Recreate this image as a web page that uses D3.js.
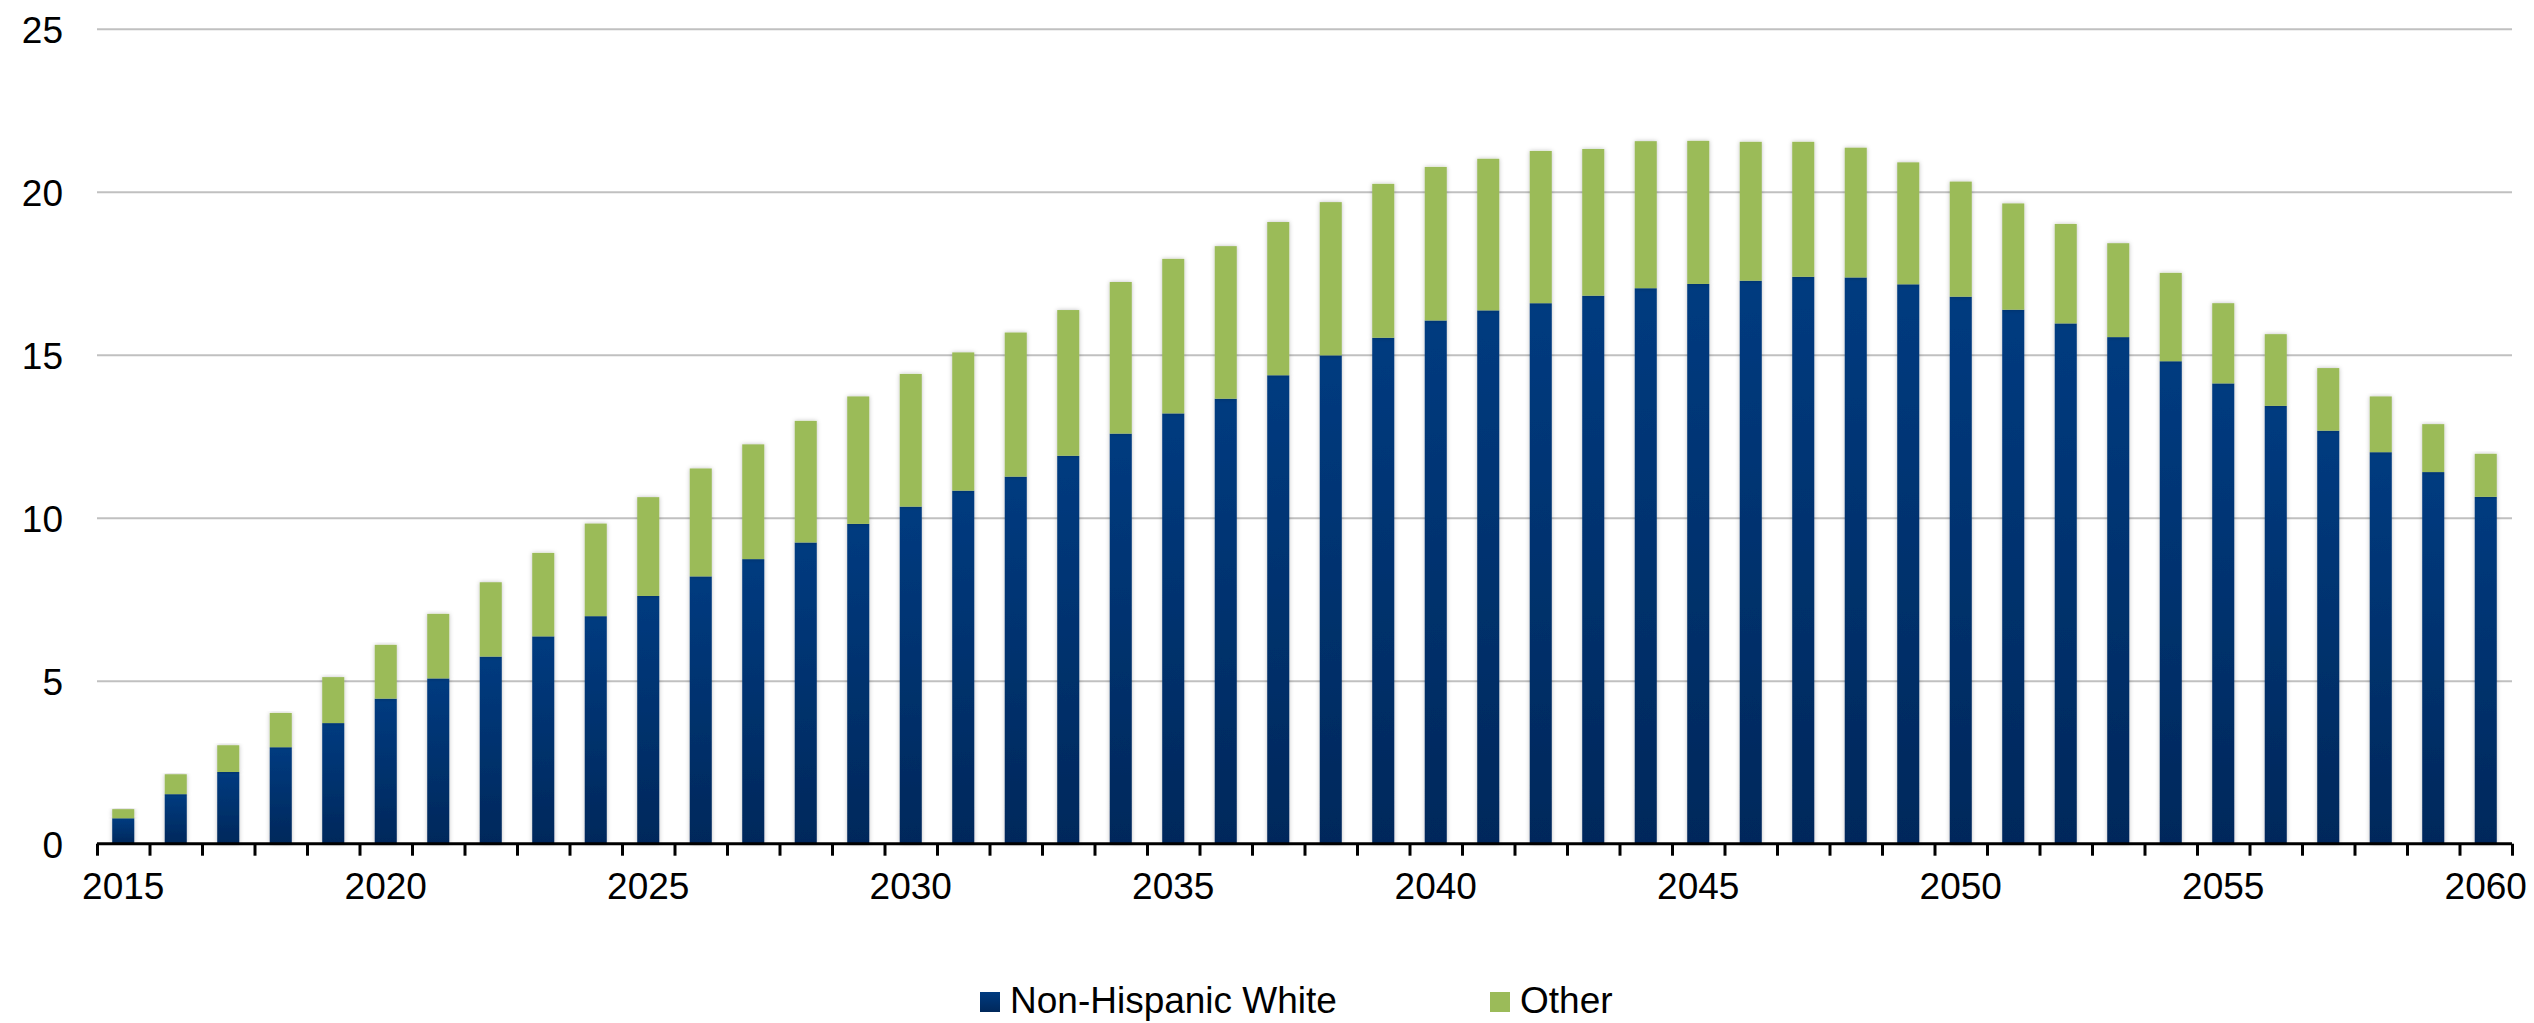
<!DOCTYPE html>
<html>
<head>
<meta charset="utf-8">
<script src="https://cdn.jsdelivr.net/npm/d3@7"></script>
<style>
  html, body { margin: 0; padding: 0; background: #ffffff; }
  svg { display: block; }
  text { font-family: "Liberation Sans", Arial, sans-serif; fill: #000; }
</style>
</head>
<body>
<svg id="chart" width="2534" height="1023"></svg>
<script>
const years = ["2015","2016","2017","2018","2019","2020","2021","2022","2023","2024",
  "2025","2026","2027","2028","2029","2030","2031","2032","2033","2034",
  "2035","2036","2037","2038","2039","2040","2041","2042","2043","2044",
  "2045","2046","2047","2048","2049","2050","2051","2052","2053","2054",
  "2055","2056","2057","2058","2059","2060"];
const nonHispanicWhite = [0.78,1.52,2.20,2.96,3.70,4.45,5.07,5.74,6.36,6.98,
  7.60,8.20,8.73,9.24,9.81,10.34,10.83,11.26,11.90,12.58,
  13.20,13.65,14.37,14.98,15.52,16.05,16.36,16.58,16.81,17.04,
  17.17,17.27,17.39,17.37,17.16,16.78,16.38,15.96,15.54,14.80,
  14.12,13.43,12.67,12.01,11.40,10.64];
const other = [0.28,0.61,0.82,1.05,1.41,1.65,1.98,2.28,2.56,2.84,
  3.03,3.31,3.52,3.73,3.91,4.07,4.24,4.42,4.47,4.65,
  4.74,4.68,4.70,4.70,4.72,4.71,4.65,4.67,4.50,4.51,
  4.39,4.26,4.14,3.98,3.74,3.53,3.26,3.05,2.88,2.71,
  2.46,2.20,1.92,1.71,1.47,1.32];
const seriesNames = ["Non-Hispanic White", "Other"];
const yTicks = [0, 5, 10, 15, 20, 25];
const xTickLabels = ["2015","2020","2025","2030","2035","2040","2045","2050","2055","2060"];

const svg = d3.select("#chart");
const plotLeft = 97, plotRight = 2512, plotTop = 28.7, plotBottom = 843.7;
const fontSize = 37;

const defs = svg.append("defs");
const grad = defs.append("linearGradient").attr("id", "blueGrad")
  .attr("x1", 0).attr("y1", 0).attr("x2", 0).attr("y2", 1);
grad.append("stop").attr("offset", "0%").attr("stop-color", "#003b80");
grad.append("stop").attr("offset", "100%").attr("stop-color", "#00285b");
const legGrad = defs.append("linearGradient").attr("id", "legGrad")
  .attr("x1", 0).attr("y1", 0).attr("x2", 0).attr("y2", 1);
legGrad.append("stop").attr("offset", "0%").attr("stop-color", "#003b80");
legGrad.append("stop").attr("offset", "100%").attr("stop-color", "#00285b");
const shadow = defs.append("filter").attr("id", "shadow")
  .attr("x", "-50%").attr("y", "-5%").attr("width", "200%").attr("height", "110%");
shadow.append("feDropShadow").attr("dx", 0).attr("dy", 0)
  .attr("stdDeviation", 2).attr("flood-color", "#000").attr("flood-opacity", 0.25);

const y = d3.scaleLinear().domain([0, 25]).range([plotBottom, plotTop]);
const x = d3.scaleBand().domain(years).range([plotLeft, plotRight])
  .paddingInner(0.58).paddingOuter(0.29);
const xEdge = d3.scaleLinear().domain([0, years.length]).range([plotLeft, plotRight]);

// gridlines + y labels
const yAxis = svg.append("g").attr("transform", `translate(${plotLeft},0)`)
  .call(d3.axisLeft(y).tickValues(yTicks).tickSize(-(plotRight - plotLeft)).tickPadding(34));
yAxis.select(".domain").remove();
yAxis.selectAll(".tick line").attr("stroke", "#c0c0c0").attr("stroke-width", 2)
  .attr("display", d => d === 0 ? "none" : null);
yAxis.selectAll(".tick text").attr("font-size", fontSize)
  .attr("font-family", "'Liberation Sans', Arial, sans-serif").attr("dy", "0.36em");

// stacked data
const rows = years.map((yr, i) => ({ year: yr, white: nonHispanicWhite[i], other: other[i] }));
const stack = d3.stack().keys(["white", "other"])(rows);
const fills = ["url(#blueGrad)", "#9bbb59"];

const barsG = svg.append("g");
stack.forEach((layer, li) => {
  barsG.append("g").selectAll("rect").data(layer).join("rect")
    .attr("x", d => x(d.data.year))
    .attr("width", x.bandwidth())
    .attr("y", d => y(d[1]))
    .attr("height", d => y(d[0]) - y(d[1]))
    .attr("fill", fills[li])
    .attr("filter", "url(#shadow)");
});

// x axis: line + ticks at category boundaries
const xAxis = svg.append("g").attr("transform", `translate(0,${plotBottom})`)
  .call(d3.axisBottom(xEdge).tickValues(d3.range(years.length + 1)).tickSize(12).tickFormat(""));
xAxis.select(".domain").attr("stroke", "#000").attr("stroke-width", 3)
  .attr("d", `M${plotLeft},0H${plotRight}`);
xAxis.selectAll(".tick line").attr("stroke", "#000").attr("stroke-width", 3);

// x labels
const xLab = svg.append("g").attr("transform", `translate(0,${plotBottom})`)
  .call(d3.axisBottom(x).tickValues(xTickLabels).tickSize(0).tickPadding(29));
xLab.select(".domain").remove();
xLab.selectAll(".tick text").attr("font-size", fontSize)
  .attr("font-family", "'Liberation Sans', Arial, sans-serif");

// legend
const legendItems = [
  { name: seriesNames[0], fill: "url(#legGrad)", x: 980 },
  { name: seriesNames[1], fill: "#9bbb59", x: 1490 }
];
const leg = svg.append("g");
legendItems.forEach(it => {
  leg.append("rect").attr("x", it.x).attr("y", 992).attr("width", 20).attr("height", 20)
    .attr("fill", it.fill);
  leg.append("text").attr("x", it.x + 30).attr("y", 1013).attr("font-size", fontSize)
    .text(it.name);
});
</script>
</body>
</html>
